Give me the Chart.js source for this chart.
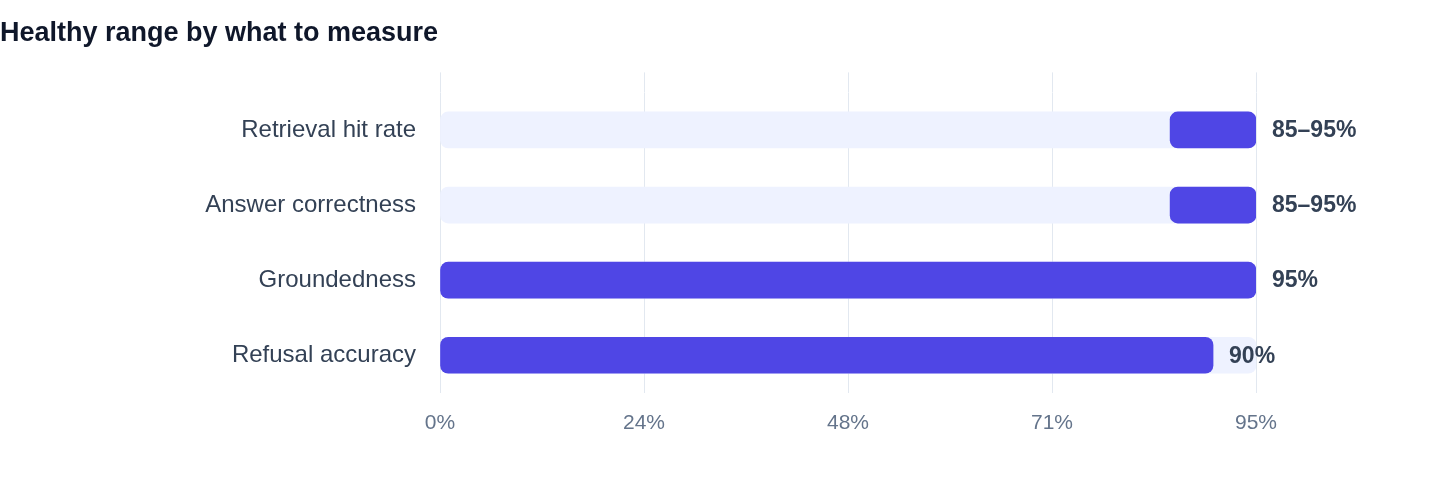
<!DOCTYPE html>
<html>
<head>
<meta charset="utf-8">
<script src="https://cdn.jsdelivr.net/npm/chart.js@4.4.1/dist/chart.umd.min.js"></script>
<style>
  html, body { margin: 0; padding: 0; background: #ffffff; }
  #wrap { width: 1440px; height: 484px; }
</style>
</head>
<body>
<div id="wrap"><canvas id="rangeChart" width="1440" height="484"></canvas></div>
<script>
// values
const measures = ['Retrieval hit rate', 'Answer correctness', 'Groundedness', 'Refusal accuracy'];
const rangeLow = [85, 85, 0, 0];
const rangeHigh = [95, 95, 95, 90];
const trackMax = [95, 95, 95, 95];
const axisMax = 95;

const fontFamily = '"Liberation Sans", Arial, Helvetica, sans-serif';

// end-of-bar labels like "85–95%" or "95%"
const endLabels = {
    id: 'endLabels',
    afterDatasetsDraw(chart) {
        const ctx = chart.ctx;
        const meta = chart.getDatasetMeta(0);
        ctx.save();
        ctx.font = 'bold 23px ' + fontFamily;
        ctx.fillStyle = '#334155';
        ctx.textAlign = 'left';
        ctx.textBaseline = 'middle';
        meta.data.forEach(function(bar, i) {
            const txt = rangeLow[i] > 0 ? rangeLow[i] + '–' + rangeHigh[i] + '%' : rangeHigh[i] + '%';
            ctx.fillText(txt, bar.x + 16, bar.y + 1);
        });
        ctx.restore();
    }
};

const ctx = document.getElementById('rangeChart').getContext('2d');
const chart = new Chart(ctx, {
    type: 'bar',
    data: {
        labels: measures,
        datasets: [{
            // healthy range, drawn on top
            label: 'Healthy range',
            data: measures.map((m, i) => [rangeLow[i], rangeHigh[i]]),
            backgroundColor: '#4f46e5',
            borderRadius: 8,
            borderSkipped: false,
            barThickness: 36,
            grouped: false
        }, {
            // light track behind
            label: 'Track',
            data: measures.map((m, i) => [0, trackMax[i]]),
            backgroundColor: '#eef2ff',
            borderRadius: 8,
            borderSkipped: false,
            barThickness: 36,
            grouped: false
        }]
    },
    options: {
        indexAxis: 'y',
        responsive: false,
        animation: false,
        devicePixelRatio: 1,
        layout: { padding: { left: 0, right: 184, top: 0, bottom: 30 } },
        plugins: {
            legend: { display: false },
            tooltip: { enabled: false },
            title: {
                display: true,
                text: 'Healthy range by what to measure',
                align: 'start',
                color: '#0f172a',
                font: { family: fontFamily, size: 27, weight: 'bold' },
                padding: { top: 17, bottom: 23 }
            }
        },
        scales: {
            x: {
                min: 0,
                max: axisMax,
                position: 'bottom',
                ticks: {
                    stepSize: axisMax / 4,
                    padding: 18,
                    color: '#64748b',
                    font: { family: fontFamily, size: 21 },
                    callback: v => Math.round(v) + '%'
                },
                grid: { color: '#e2e8f0', lineWidth: 1, drawTicks: false },
                border: { display: false }
            },
            x2: {
                min: 0,
                max: axisMax,
                position: 'top',
                ticks: { display: false, stepSize: axisMax / 4 },
                grid: { color: '#e2e8f0', lineWidth: 1, drawOnChartArea: false, drawTicks: true, tickLength: 20 },
                border: { display: false }
            },
            y: {
                ticks: {
                    padding: 16,
                    color: '#334155',
                    font: { family: fontFamily, size: 24 }
                },
                grid: { display: false },
                border: { display: false },
                afterFit(scale) { scale.width = 440; }
            }
        }
    },
    plugins: [endLabels]
});
</script>
</body>
</html>
